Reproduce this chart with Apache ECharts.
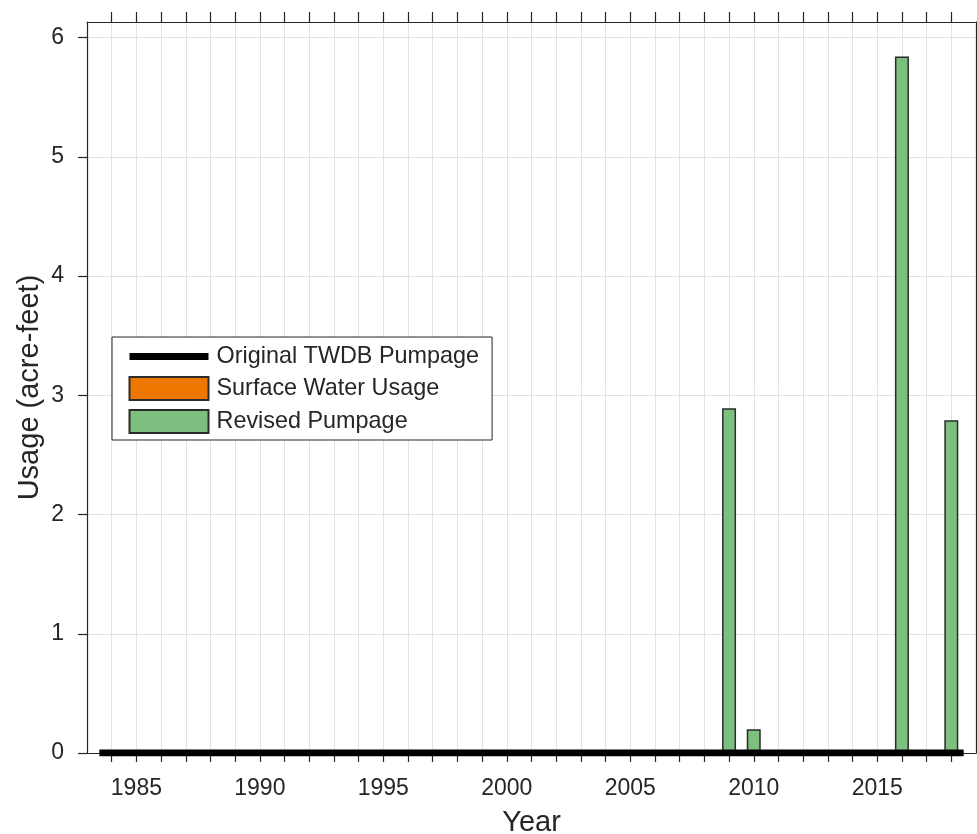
<!DOCTYPE html>
<html>
<head>
<meta charset="utf-8">
<script src="https://cdn.jsdelivr.net/npm/echarts@6/dist/echarts.min.js"></script>
<style>
html,body{margin:0;padding:0;background:#fff;}
#chart{width:977px;height:834px;}
</style>
</head>
<body>
<div id="chart"></div>
<script>
// ---- data ----
const years = [];
for (let y = 1984; y <= 2018; y++) years.push(y);
const originalPumpage = [0,0,0,0,0,0,0,0,0,0,0,0,0,0,0,0,0,0,0,0,0,0,0,0,0,0,0,0,0,0,0,0,0,0,0];
const surfaceWater    = [0,0,0,0,0,0,0,0,0,0,0,0,0,0,0,0,0,0,0,0,0,0,0,0,0,0,0,0,0,0,0,0,0,0,0];
const revisedPumpage  = [0,0,0,0,0,0,0,0,0,0,0,0,0,0,0,0,0,0,0,0,0,0,0,0,0,2.89,0.20,0,0,0,0,0,5.84,0,2.79];
const xLabelYears = [1985, 1990, 1995, 2000, 2005, 2010, 2015];
const yTicks = [0, 1, 2, 3, 4, 5, 6];

// stairs for original pumpage (edges at +/- half year)
const stairs = [];
years.forEach((y, i) => { stairs.push([y - 0.5, originalPumpage[i]]); stairs.push([y + 0.5, originalPumpage[i]]); });

const txt = '#262626';
const font = 'Liberation Sans, Arial, Helvetica, sans-serif';
const chart = echarts.init(document.getElementById('chart'), null, {renderer: 'canvas'});
chart.setOption({
  animation: false,
  backgroundColor: '#fff',
  textStyle: {fontFamily: font},
  grid: {left: 87, right: 1, top: 22, bottom: 81, containLabel: false, outerBoundsMode: 'none'},
  legend: {
    left: 112, top: 337,
    orient: 'vertical',
    backgroundColor: '#fff',
    borderColor: txt, borderWidth: 1, borderRadius: 0,
    padding: [8, 13, 6, 14],
    itemWidth: 79, itemHeight: 23, itemGap: 8,
    textStyle: {fontSize: 23.4, color: txt, fontFamily: font, padding: [0, 0, 0, 3]},
    selectedMode: false,
    data: [
      {name: 'Original TWDB Pumpage', itemStyle: {opacity: 0}, lineStyle: {width: 7, color: '#000', cap: 'butt'}},
      {name: 'Surface Water Usage', icon: 'rect'},
      {name: 'Revised Pumpage', icon: 'rect'}
    ]
  },
  xAxis: [{
    type: 'value', position: 'bottom',
    min: 1983, max: 2019, interval: 1,
    name: 'Year', nameLocation: 'middle', nameGap: 55,
    nameTextStyle: {fontSize: 29, color: txt, fontFamily: font},
    axisLine: {show: true, onZero: false, lineStyle: {color: txt, width: 1.2}},
    axisTick: {show: true, inside: false, length: 9, customValues: years, lineStyle: {color: txt, width: 1.2}},
    axisLabel: {show: true, margin: 24, fontSize: 23, color: txt, fontFamily: font,
      customValues: xLabelYears, formatter: v => String(v)},
    splitLine: {show: true, lineStyle: {color: '#e2e2e2', width: 1}}
  }, {
    type: 'value', position: 'top',
    min: 1983, max: 2019, interval: 1,
    axisLine: {show: true, onZero: false, lineStyle: {color: txt, width: 1.2}},
    axisTick: {show: true, inside: false, length: 10, customValues: years, lineStyle: {color: txt, width: 1.2}},
    axisLabel: {show: false},
    splitLine: {show: false}
  }],
  yAxis: [{
    type: 'value', position: 'left',
    min: 0, max: 6.13, interval: 1,
    name: 'Usage (acre-feet)', nameLocation: 'middle', nameGap: 43, nameMoveOverlap: false,
    nameTextStyle: {fontSize: 29, color: txt, fontFamily: font},
    axisLine: {show: true, onZero: false, lineStyle: {color: txt, width: 1.2}},
    axisTick: {show: true, inside: false, length: 9, customValues: yTicks, lineStyle: {color: txt, width: 1.2}},
    axisLabel: {show: true, margin: 23, fontSize: 23, color: txt, fontFamily: font, customValues: yTicks},
    splitLine: {show: true, lineStyle: {color: '#e2e2e2', width: 1}}
  }, {
    type: 'value', position: 'right',
    min: 0, max: 6.13, interval: 1,
    axisLine: {show: true, onZero: false, lineStyle: {color: txt, width: 1.2}},
    axisTick: {show: false}, axisLabel: {show: false}, splitLine: {show: false}
  }],
  series: [{
    name: 'Surface Water Usage', type: 'bar', stack: 'use',
    barWidth: 14,
    data: years.map((y, i) => [y, surfaceWater[i]]),
    itemStyle: {color: '#ee7700', borderColor: '#2b2b2b', borderWidth: 1.5},
    z: 2
  }, {
    name: 'Revised Pumpage', type: 'bar', stack: 'use',
    barWidth: 14,
    data: years.map((y, i) => [y, revisedPumpage[i]]),
    itemStyle: {color: '#7dbf7f', borderColor: '#2b2b2b', borderWidth: 1.5},
    z: 2
  }, {
    name: 'Original TWDB Pumpage', type: 'line',
    data: stairs, showSymbol: false, symbol: 'none',
    lineStyle: {color: '#000', width: 7, cap: 'butt'},
    itemStyle: {color: '#000'},
    z: 5
  }]
});
</script>
</body>
</html>
